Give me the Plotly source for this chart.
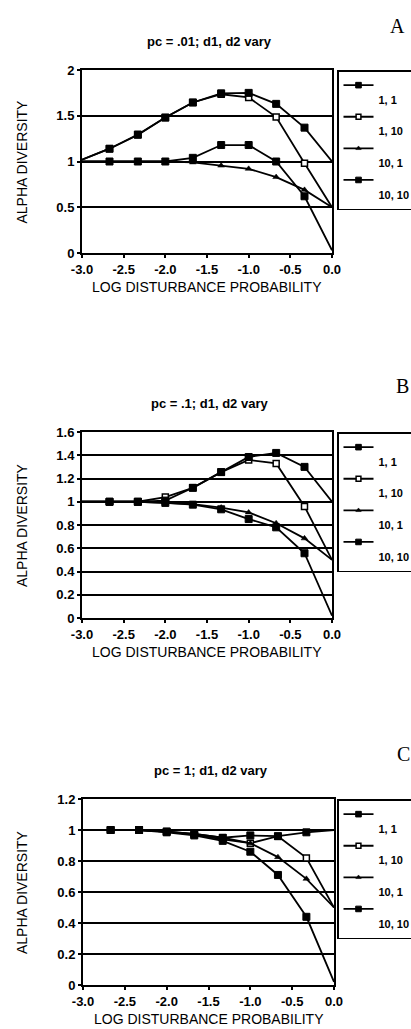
import plotly.graph_objects as go

W, H = 411, 1029

# ---------------- data ----------------
x_log = [-3.0, -2.67, -2.33, -2.0, -1.67, -1.33, -1.0, -0.67, -0.33, 0.0]
series_names = ["1, 1", "1, 10", "10, 1", "10, 10"]

a_1_1 = [1.02, 1.14, 1.295, 1.48, 1.645, 1.745, 1.75, 1.63, 1.37, 1.0]
a_1_10 = [1.02, 1.14, 1.29, 1.48, 1.645, 1.735, 1.70, 1.485, 0.98, 0.5]
a_10_1 = [1.0, 1.0, 1.0, 1.0, 0.99, 0.955, 0.92, 0.83, 0.69, 0.5]
a_10_10 = [1.0, 1.0, 1.0, 1.0, 1.04, 1.18, 1.18, 1.0, 0.62, 0.03]

b_1_1 = [1.0, 1.0, 1.0, 1.01, 1.12, 1.255, 1.385, 1.42, 1.30, 1.0]
b_1_10 = [1.0, 1.0, 1.0, 1.04, 1.12, 1.255, 1.36, 1.33, 0.96, 0.5]
b_10_1 = [1.0, 1.0, 1.0, 0.99, 0.98, 0.95, 0.908, 0.815, 0.685, 0.5]
b_10_10 = [1.0, 1.0, 1.0, 0.99, 0.975, 0.935, 0.851, 0.78, 0.557, 0.02]

c_1_1 = [1.0, 1.0, 1.0, 0.99, 0.975, 0.95, 0.965, 0.96, 0.985, 1.0]
c_1_10 = [1.0, 1.0, 1.0, 0.99, 0.975, 0.95, 0.915, 0.96, 0.82, 0.5]
c_10_1 = [1.0, 1.0, 1.0, 0.99, 0.97, 0.94, 0.915, 0.825, 0.685, 0.5]
c_10_10 = [1.0, 1.0, 1.0, 0.985, 0.965, 0.93, 0.86, 0.71, 0.44, 0.02]

x_tickvals = [-3.0, -2.5, -2.0, -1.5, -1.0, -0.5, 0.0]
x_ticktext = ["-3.0", "-2.5", "-2.0", "-1.5", "-1.0", "-0.5", "0.0"]

a_yticks = [0, 0.5, 1, 1.5, 2]
a_ytext = ["0", "0.5", "1", "1.5", "2"]
b_yticks = [0, 0.2, 0.4, 0.6, 0.8, 1.0, 1.2, 1.4, 1.6]
b_ytext = ["0", "0.2", "0.4", "0.6", "0.8", "1", "1.2", "1.4", "1.6"]
c_yticks = [0, 0.2, 0.4, 0.6, 0.8, 1.0, 1.2]
c_ytext = ["0", "0.2", "0.4", "0.6", "0.8", "1", "1.2"]

panel_titles = ["pc = .01; d1, d2 vary", "pc = .1; d1, d2 vary", "pc = 1; d1, d2 vary"]
panel_letters = ["A", "B", "C"]
x_title = "LOG DISTURBANCE PROBABILITY"
y_title = "ALPHA DIVERSITY"

# ---------------- layout geometry (pixels) ----------------
panels = [
    dict(data=[a_1_1, a_1_10, a_10_1, a_10_10], yr=[0, 2], yt=a_yticks, ytt=a_ytext,
         top=70, bot=253, left=82, right=332, letter=(397, 26)),
    dict(data=[b_1_1, b_1_10, b_10_1, b_10_10], yr=[0, 1.6], yt=b_yticks, ytt=b_ytext,
         top=432, bot=618, left=82, right=332, letter=(402, 386)),
    dict(data=[c_1_1, c_1_10, c_10_1, c_10_10], yr=[0, 1.2], yt=c_yticks, ytt=c_ytext,
         top=799, bot=985, left=83, right=334, letter=(403, 754)),
]

FONT = "Arial, 'Liberation Sans', sans-serif"
SERIF = "'Times New Roman', 'Liberation Serif', serif"

styles = [
    dict(symbol="square", size=7, color="#000000", line=dict(color="#000000", width=1)),
    dict(symbol="square", size=6, color="#ffffff", line=dict(color="#000000", width=1.5)),
    dict(symbol="triangle-up", size=6, color="#000000", line=dict(color="#000000", width=0.5)),
    dict(symbol="square", size=7, color="#000000", line=dict(color="#000000", width=1)),
]
draw_order = [1, 2, 3, 0]  # 1,1 drawn last (on top); legend order kept via legendrank

fig = go.Figure()
layout = dict(
    width=W, height=H,
    margin=dict(l=0, r=0, t=0, b=0, pad=0, autoexpand=False),
    paper_bgcolor="white", plot_bgcolor="white",
    showlegend=True,
    annotations=[],
)

def px_x(p):
    return p / W

def px_y(p):
    return 1 - p / H

n = len(x_log)
for i, p in enumerate(panels):
    sfx = "" if i == 0 else str(i + 1)
    xa, ya = "x" + sfx, "y" + sfx
    leg = "legend" + sfx
    for j in draw_order:
        name, yv = series_names[j], p["data"][j]
        st = styles[j]
        sizes = [0 if k in (0, n - 1) else st["size"] for k in range(n)]
        fig.add_trace(go.Scatter(
            x=x_log, y=yv, mode="lines+markers", name="<br>" + name,
            xaxis=xa, yaxis=ya, legend=leg, legendrank=j + 1,
            line=dict(color="#000000", width=1.8),
            marker=dict(symbol=st["symbol"], size=sizes, color=st["color"],
                        line=st["line"], opacity=1),
            cliponaxis=False,
        ))
    axis_common = dict(
        showline=True, linecolor="black", linewidth=2, mirror=True,
        ticks="outside", ticklen=3, tickcolor="black", tickwidth=1.5,
        tickfont=dict(family=FONT, size=13, color="black", weight="bold"),
        zeroline=False,
    )
    layout["xaxis" + sfx] = dict(
        axis_common, domain=[px_x(p["left"]), px_x(p["right"])], range=[-3.0, 0.0],
        tickvals=x_tickvals, ticktext=x_ticktext, showgrid=False, anchor=ya,
    )
    layout["yaxis" + sfx] = dict(
        axis_common, domain=[px_y(p["bot"]), px_y(p["top"])], range=p["yr"],
        tickvals=p["yt"], ticktext=p["ytt"], showgrid=True, gridcolor="black",
        gridwidth=1.6, anchor=xa,
    )
    layout[leg] = dict(
        x=px_x(337), y=px_y(p["top"]), xanchor="left", yanchor="top",
        bordercolor="black", borderwidth=1.5, bgcolor="white",
        font=dict(family=FONT, size=11, color="black", weight="bold"),
        itemwidth=30, valign="top", tracegroupgap=6,
    )
    cx = (p["left"] + p["right"]) / 2
    layout["annotations"] += [
        dict(text=panel_titles[i], x=px_x(cx + 2), y=px_y(p["top"] - 29),
             xref="paper", yref="paper", showarrow=False, xanchor="center", yanchor="middle",
             font=dict(family=FONT, size=13, color="black", weight="bold")),
        dict(text=panel_letters[i], x=px_x(p["letter"][0]), y=px_y(p["letter"][1]),
             xref="paper", yref="paper", showarrow=False, xanchor="center", yanchor="middle",
             font=dict(family=SERIF, size=20, color="black")),
        dict(text=x_title, x=px_x(cx), y=px_y(p["bot"] + 34),
             xref="paper", yref="paper", showarrow=False, xanchor="center", yanchor="middle",
             font=dict(family=FONT, size=14, color="black")),
        dict(text=y_title, x=px_x(22), y=px_y((p["top"] + p["bot"]) / 2), textangle=-90,
             xref="paper", yref="paper", showarrow=False, xanchor="center", yanchor="middle",
             font=dict(family=FONT, size=14, color="black")),
    ]

fig.update_layout(**layout)
fig.write_html("out.html")
